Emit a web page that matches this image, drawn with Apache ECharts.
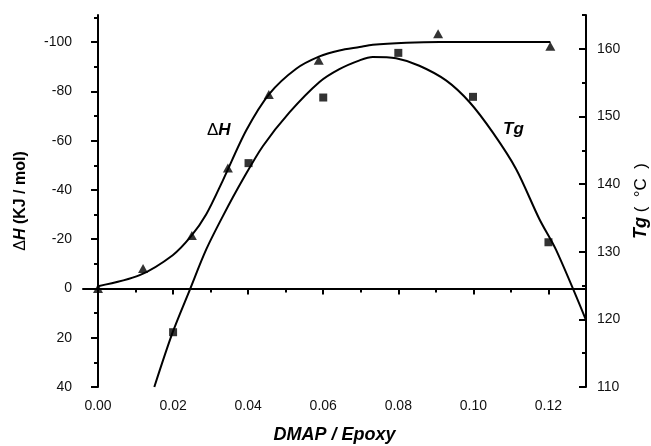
<!DOCTYPE html>
<html>
<head>
<meta charset="utf-8">
<script src="https://cdn.jsdelivr.net/npm/echarts@6/dist/echarts.min.js"></script>
<style>
html,body{margin:0;padding:0;background:#fff;}
#c{width:651px;height:446px;}
</style>
</head>
<body>
<div id="c"></div>
<script>
// ---- data ----
const xMajorTicks = [0, 0.02, 0.04, 0.06, 0.08, 0.10, 0.12];
const xMinorTicks = [0.01, 0.03, 0.05, 0.07, 0.09, 0.11, 0.13];
const dhMajorTicks = [-100, -80, -60, -40, -20, 0, 20, 40];
const dhMinorTicks = [-110, -90, -70, -50, -30, -10, 10, 30];
const tgMajorTicks = [110, 120, 130, 140, 150, 160];
const tgMinorTicks = [115, 125, 135, 145, 155, 165];

// measured points
const dhX = [0.000, 0.012, 0.025, 0.0346, 0.0455, 0.0588, 0.0906, 0.1205];
const dhY = [0, -8.1, -21.5, -48.9, -78.7, -92.6, -103.4, -98.3];
const tgX = [0.020, 0.0401, 0.060, 0.080, 0.0999, 0.120];
const tgY = [118.1, 143.1, 152.8, 159.4, 152.9, 131.4];

// fitted curves (traced)
const dhFitX = [0.000, 0.0111, 0.0199, 0.0248, 0.0288, 0.0333, 0.0395, 0.0457, 0.0528, 0.0590, 0.0643, 0.0697, 0.0732, 0.0821, 0.0910, 0.1205];
const dhFitY = [-0.9, -5.4, -13.5, -21.2, -30.0, -44.0, -64.2, -79.1, -89.2, -94.2, -96.6, -98.0, -98.9, -99.7, -100, -100];
const tgFitX = [0.0150, 0.0199, 0.0244, 0.0288, 0.0333, 0.0386, 0.0439, 0.0510, 0.0590, 0.0643, 0.0697, 0.0732, 0.0794, 0.0856, 0.0928, 0.0990, 0.1052, 0.1114, 0.1176, 0.1220, 0.1300];
const tgFitY = [110, 118.1, 124.3, 130.3, 135.3, 140.7, 145.6, 150.6, 155.1, 157.0, 158.3, 158.8, 158.6, 157.5, 155.3, 152.1, 147.6, 142.2, 134.8, 130.3, 119.9];

const zip = (a, b) => a.map((v, i) => [v, b[i]]);

const FONT = 'Liberation Sans, Arial, sans-serif';
const lineStyle = {color: '#000', width: 2};
const labelStyle = {color: '#111', fontSize: 14, fontFamily: FONT};

const chart = echarts.init(document.getElementById('c'), null, {renderer: 'canvas'});
chart.setOption({
  animation: false,
  backgroundColor: '#fff',
  grid: {left: 83, right: 65, top: 15, bottom: 59, containLabel: false, outerBoundsMode: 'none'},
  xAxis: [{
    type: 'value', min: -0.004, max: 0.13, position: 'bottom',
    name: 'DMAP / Epoxy', nameLocation: 'middle', nameGap: 39,
    nameTextStyle: {fontSize: 18, fontWeight: 'bold', fontStyle: 'italic', fontFamily: FONT, color: '#000'},
    axisLine: {show: true, lineStyle: lineStyle},
    axisTick: {show: true, length: 6, lineStyle: lineStyle, customValues: xMajorTicks},
    axisLabel: Object.assign({margin: 12, customValues: xMajorTicks, formatter: v => v.toFixed(2)}, labelStyle),
    splitLine: {show: false}
  }, {
    type: 'value', min: -0.004, max: 0.13, position: 'bottom',
    axisLine: {show: false},
    axisTick: {show: true, length: 4, lineStyle: lineStyle, customValues: xMinorTicks},
    axisLabel: {show: false},
    splitLine: {show: false}
  }],
  yAxis: [{
    type: 'value', min: -111, max: 40, inverse: true, position: 'left',
    name: '{d|Δ}{h|H}{b| (KJ / mol)}', nameLocation: 'middle', nameGap: 54,
    nameTextStyle: {fontSize: 16, fontFamily: FONT, color: '#000', rich: {
      d: {fontSize: 16, fontFamily: FONT, color: '#000'},
      h: {fontSize: 16, fontFamily: FONT, fontWeight: 'bold', fontStyle: 'italic', color: '#000'},
      b: {fontSize: 16, fontFamily: FONT, fontWeight: 'bold', color: '#000'}
    }},
    axisLine: {show: true, lineStyle: lineStyle},
    axisTick: {show: true, length: 7, lineStyle: lineStyle, customValues: dhMajorTicks},
    axisLabel: Object.assign({margin: 11, customValues: dhMajorTicks}, labelStyle),
    splitLine: {show: false}
  }, {
    type: 'value', min: -111, max: 40, inverse: true, position: 'left',
    axisLine: {show: false},
    axisTick: {show: true, length: 4, lineStyle: lineStyle, customValues: dhMinorTicks},
    axisLabel: {show: false},
    splitLine: {show: false}
  }, {
    type: 'value', min: 110, max: 165, position: 'right',
    name: '{t|Tg}{c| (  °C  )}', nameLocation: 'middle', nameGap: 46,
    nameTextStyle: {fontSize: 17, fontFamily: FONT, color: '#000', rich: {
      t: {fontSize: 18, fontFamily: FONT, fontWeight: 'bold', fontStyle: 'italic', color: '#000'},
      c: {fontSize: 17, fontFamily: FONT, color: '#000'}
    }},
    axisLine: {show: true, lineStyle: lineStyle},
    axisTick: {show: true, inside: true, length: 7, lineStyle: lineStyle, customValues: tgMajorTicks},
    axisLabel: Object.assign({margin: 11, customValues: tgMajorTicks}, labelStyle),
    splitLine: {show: false}
  }, {
    type: 'value', min: 110, max: 165, position: 'right',
    axisLine: {show: false},
    axisTick: {show: true, inside: true, length: 4, lineStyle: lineStyle, customValues: tgMinorTicks},
    axisLabel: {show: false},
    splitLine: {show: false}
  }],
  series: [{
    type: 'line', xAxisIndex: 0, yAxisIndex: 0, data: zip(dhFitX, dhFitY),
    smooth: 0.3, showSymbol: false, symbol: 'none', lineStyle: {color: '#000', width: 2}, z: 2
  }, {
    type: 'line', xAxisIndex: 0, yAxisIndex: 2, data: zip(tgFitX, tgFitY),
    smooth: 0.3, showSymbol: false, symbol: 'none', lineStyle: {color: '#000', width: 2}, z: 2
  }, {
    type: 'scatter', xAxisIndex: 0, yAxisIndex: 0, data: zip(dhX, dhY),
    symbol: 'triangle', symbolSize: [10, 9], itemStyle: {color: '#000'}, z: 3
  }, {
    type: 'scatter', xAxisIndex: 0, yAxisIndex: 2, data: zip(tgX, tgY),
    symbol: 'rect', symbolSize: 8, itemStyle: {color: '#000'}, z: 3
  }],
  graphic: [{
    type: 'text', left: 207, top: 122,
    style: {text: '{d|Δ}{h|H}', rich: {
      d: {fontSize: 17, fontFamily: FONT, fill: '#000'},
      h: {fontSize: 17, fontFamily: FONT, fontWeight: 'bold', fontStyle: 'italic', fill: '#000'}
    }}
  }, {
    type: 'text', left: 503, top: 121,
    style: {text: 'Tg', fontSize: 17, fontFamily: FONT, fontWeight: 'bold', fontStyle: 'italic', fill: '#000'}
  }]
});
</script>
</body>
</html>
